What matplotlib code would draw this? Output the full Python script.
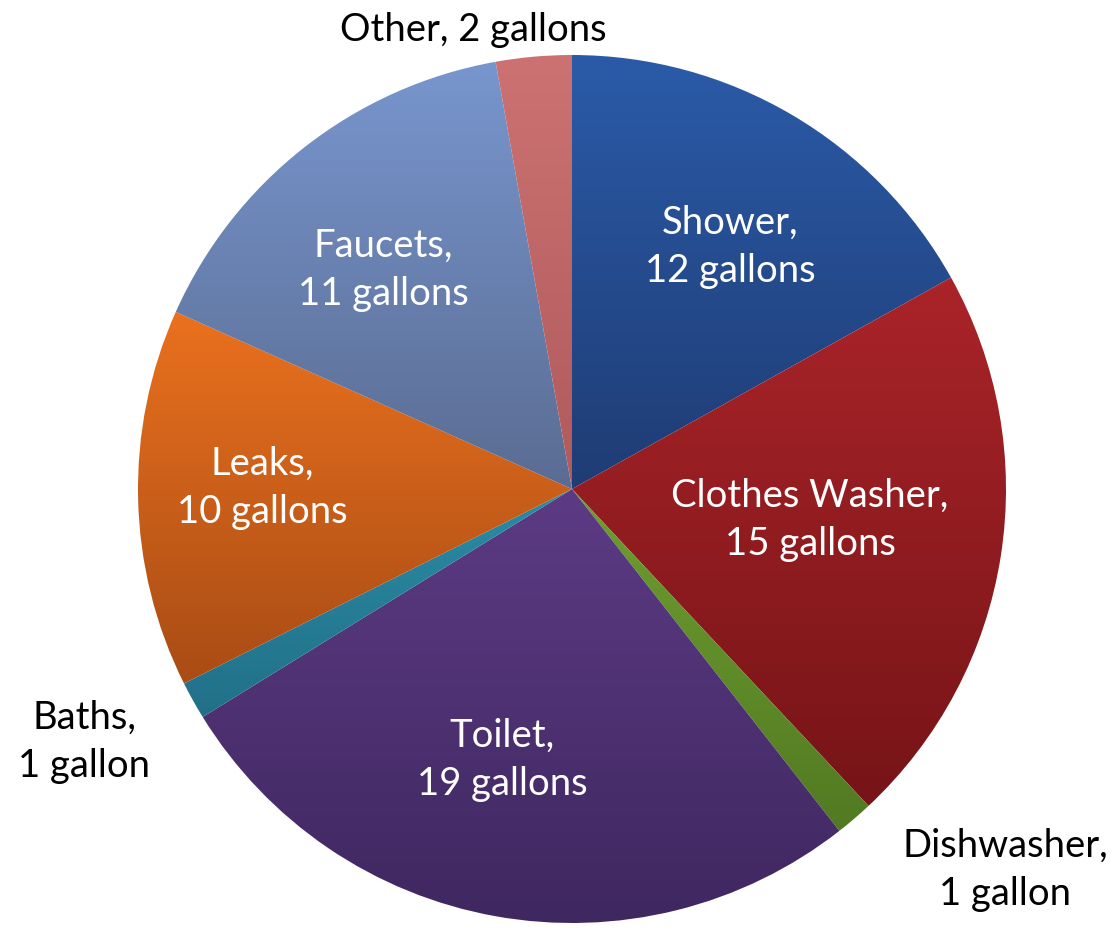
import matplotlib
matplotlib.use("Agg")
import matplotlib.pyplot as plt
import numpy as np
from matplotlib.colors import LinearSegmentedColormap

categories = ["Shower", "Clothes Washer", "Dishwasher", "Toilet", "Baths", "Leaks", "Faucets", "Other"]
values = [12, 15, 1, 19, 1, 10, 11, 2]
labels = ["Shower,\n12 gallons", "Clothes Washer,\n15 gallons", "Dishwasher,\n1 gallon",
          "Toilet,\n19 gallons", "Baths,\n1 gallon", "Leaks,\n10 gallons",
          "Faucets,\n11 gallons", "Other, 2 gallons"]
light = ["#2B5BA8", "#AA2429", "#6E9E30", "#5C3B84", "#2A8CA4", "#EA711E", "#7896CE", "#CC7272"]
dark = ["#1F3C74", "#761417", "#527A22", "#3F2760", "#217088", "#A94C15", "#5A6C92", "#B05A5C"]
label_pos = [(730, 247), (810, 520), (1005, 870), (502, 760), (84, 742), (262, 488), (383, 270), (473, 30)]
label_col = ["white", "white", "black", "white", "black", "white", "white", "black"]

W, H = 1112, 929
fig = plt.figure(figsize=(W / 100, H / 100), dpi=100)
ax = fig.add_axes([0, 0, 1, 1])
ax.set_xlim(0, W)
ax.set_ylim(0, H)
ax.axis("off")

cx, cy, R = 572, H - 490, 434
wedges, _ = ax.pie(values, startangle=90, counterclock=False, radius=R, center=(cx, cy),
                   wedgeprops=dict(linewidth=0), frame=False)
ax.set_xlim(0, W)
ax.set_ylim(0, H)
ax.set_aspect("auto")

for w, lc, dc in zip(wedges, light, dark):
    w.set_facecolor("none")
    bb = w.get_path().get_extents(w.get_patch_transform())
    cmap = LinearSegmentedColormap.from_list("g", [dc, lc])
    grad = np.linspace(0, 1, 256).reshape(-1, 1)
    im = ax.imshow(grad, cmap=cmap, origin="lower", aspect="auto",
                   extent=(bb.x0, bb.x1, bb.y0, bb.y1), interpolation="bilinear", zorder=1)
    im.set_clip_path(w)

for lab, (x, y), c in zip(labels, label_pos, label_col):
    ax.text(x, H - y, lab, ha="center", va="center", color=c, fontsize=27.5,
            family=["Lato", "DejaVu Sans"], linespacing=1.42, zorder=5)

fig.savefig("out.png", dpi=100)
